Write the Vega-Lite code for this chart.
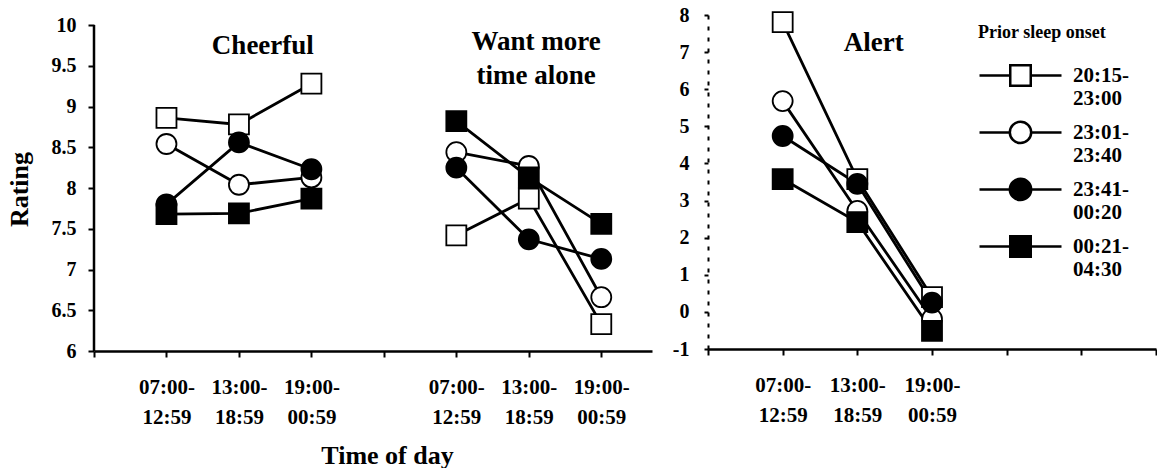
{
  "$schema": "https://vega.github.io/schema/vega-lite/v6.json",
  "background": "white",
  "padding": {"left": 6, "top": 5, "right": 0, "bottom": 0},
  "datasets": {
    "ratings": [
      {"measure": "Cheerful", "slot": 1, "time": "07:00-12:59", "onset": "20:15-23:00", "rating": 8.86},
      {"measure": "Cheerful", "slot": 2, "time": "13:00-18:59", "onset": "20:15-23:00", "rating": 8.78},
      {"measure": "Cheerful", "slot": 3, "time": "19:00-00:59", "onset": "20:15-23:00", "rating": 9.28},
      {"measure": "Want more time alone", "slot": 1, "time": "07:00-12:59", "onset": "20:15-23:00", "rating": 7.42},
      {"measure": "Want more time alone", "slot": 2, "time": "13:00-18:59", "onset": "20:15-23:00", "rating": 7.87},
      {"measure": "Want more time alone", "slot": 3, "time": "19:00-00:59", "onset": "20:15-23:00", "rating": 6.33},
      {"measure": "Alert", "slot": 1, "time": "07:00-12:59", "onset": "20:15-23:00", "rating": 7.81},
      {"measure": "Alert", "slot": 2, "time": "13:00-18:59", "onset": "20:15-23:00", "rating": 3.58},
      {"measure": "Alert", "slot": 3, "time": "19:00-00:59", "onset": "20:15-23:00", "rating": 0.4},
      {"measure": "Cheerful", "slot": 1, "time": "07:00-12:59", "onset": "23:01-23:40", "rating": 8.54},
      {"measure": "Cheerful", "slot": 2, "time": "13:00-18:59", "onset": "23:01-23:40", "rating": 8.04},
      {"measure": "Cheerful", "slot": 3, "time": "19:00-00:59", "onset": "23:01-23:40", "rating": 8.13},
      {"measure": "Want more time alone", "slot": 1, "time": "07:00-12:59", "onset": "23:01-23:40", "rating": 8.44},
      {"measure": "Want more time alone", "slot": 2, "time": "13:00-18:59", "onset": "23:01-23:40", "rating": 8.27},
      {"measure": "Want more time alone", "slot": 3, "time": "19:00-00:59", "onset": "23:01-23:40", "rating": 6.66},
      {"measure": "Alert", "slot": 1, "time": "07:00-12:59", "onset": "23:01-23:40", "rating": 5.68},
      {"measure": "Alert", "slot": 2, "time": "13:00-18:59", "onset": "23:01-23:40", "rating": 2.72},
      {"measure": "Alert", "slot": 3, "time": "19:00-00:59", "onset": "23:01-23:40", "rating": -0.19},
      {"measure": "Cheerful", "slot": 1, "time": "07:00-12:59", "onset": "23:41-00:20", "rating": 7.8},
      {"measure": "Cheerful", "slot": 2, "time": "13:00-18:59", "onset": "23:41-00:20", "rating": 8.56},
      {"measure": "Cheerful", "slot": 3, "time": "19:00-00:59", "onset": "23:41-00:20", "rating": 8.23},
      {"measure": "Want more time alone", "slot": 1, "time": "07:00-12:59", "onset": "23:41-00:20", "rating": 8.25},
      {"measure": "Want more time alone", "slot": 2, "time": "13:00-18:59", "onset": "23:41-00:20", "rating": 7.37},
      {"measure": "Want more time alone", "slot": 3, "time": "19:00-00:59", "onset": "23:41-00:20", "rating": 7.13},
      {"measure": "Alert", "slot": 1, "time": "07:00-12:59", "onset": "23:41-00:20", "rating": 4.74},
      {"measure": "Alert", "slot": 2, "time": "13:00-18:59", "onset": "23:41-00:20", "rating": 3.45},
      {"measure": "Alert", "slot": 3, "time": "19:00-00:59", "onset": "23:41-00:20", "rating": 0.25},
      {"measure": "Cheerful", "slot": 1, "time": "07:00-12:59", "onset": "00:21-04:30", "rating": 7.68},
      {"measure": "Cheerful", "slot": 2, "time": "13:00-18:59", "onset": "00:21-04:30", "rating": 7.69},
      {"measure": "Cheerful", "slot": 3, "time": "19:00-00:59", "onset": "00:21-04:30", "rating": 7.87},
      {"measure": "Want more time alone", "slot": 1, "time": "07:00-12:59", "onset": "00:21-04:30", "rating": 8.82},
      {"measure": "Want more time alone", "slot": 2, "time": "13:00-18:59", "onset": "00:21-04:30", "rating": 8.13},
      {"measure": "Want more time alone", "slot": 3, "time": "19:00-00:59", "onset": "00:21-04:30", "rating": 7.56},
      {"measure": "Alert", "slot": 1, "time": "07:00-12:59", "onset": "00:21-04:30", "rating": 3.58},
      {"measure": "Alert", "slot": 2, "time": "13:00-18:59", "onset": "00:21-04:30", "rating": 2.42},
      {"measure": "Alert", "slot": 3, "time": "19:00-00:59", "onset": "00:21-04:30", "rating": -0.51}
    ],
    "panels": [
      {"panel": "Cheerful"},
      {"panel": "Want more\ntime alone"},
      {"panel": "Alert"}
    ]
  },
  "spacing": 56,
  "bounds": "flush",
  "hconcat": [
    {
      "width": 558,
      "height": 336,
      "layer": [
        {
          "layer": [
            {
              "data": {"name": "panels"},
              "transform": [{"filter": "datum.panel == 'Cheerful'"}],
              "mark": {"type": "rule", "color": "black", "strokeWidth": 2.5},
              "encoding": {
                "x": {
                  "datum": 0, "type": "quantitative",
                  "scale": {"domain": [0, 7.7], "nice": false, "zero": false},
                  "axis": {
                    "values": [0, 1, 2, 3, 4, 5, 6, 7],
                    "labelExpr": "datum.value == 1 || datum.value == 5 ? ['07:00-', '12:59'] : datum.value == 2 || datum.value == 6 ? ['13:00-', '18:59'] : datum.value == 3 || datum.value == 7 ? ['19:00-', '00:59'] : ''",
                    "labelFontSize": 21, "labelLineHeight": 30, "labelPadding": 19,
                    "labelAngle": 0, "labelFlush": false, "labelOverlap": false,
                    "tickSize": 6, "tickWidth": 2, "domainWidth": 2.5,
                    "title": "Time of day", "titleFontSize": 26,
                    "titleX": 293, "titleY": 104, "titleAlign": "center", "titleBaseline": "middle"
                  }
                },
                "y": {
                  "datum": 6, "type": "quantitative",
                  "scale": {"domain": [6, 10.123], "nice": false, "zero": false},
                  "axis": {
                    "values": [6, 6.5, 7, 7.5, 8, 8.5, 9, 9.5, 10],
                    "labelExpr": "'' + datum.value",
                    "labelFontSize": 20, "labelPadding": 12, "labelBaseline": "middle", "labelOverlap": false,
                    "domain": false, "tickSize": 6, "tickWidth": 2,
                    "title": "Rating", "titleFontSize": 26, "titleAngle": -90,
                    "titleX": -75, "titleY": 174, "titleAlign": "center", "titleBaseline": "middle"
                  }
                },
                "y2": {"datum": 10}
              }
            },
            {
              "data": {"name": "ratings"},
              "transform": [{"filter": "datum.measure == 'Cheerful'"}],
              "mark": {"type": "line", "color": "black", "strokeWidth": 2.8},
              "encoding": {
                "x": {"field": "slot", "type": "quantitative", "scale": {"domain": [0, 7.7], "nice": false, "zero": false}},
                "y": {"field": "rating", "type": "quantitative", "scale": {"domain": [6, 10.123], "nice": false, "zero": false}},
                "detail": {"field": "onset", "type": "nominal"}
              }
            },
            {
              "data": {"name": "ratings"},
              "transform": [{"filter": "datum.measure == 'Cheerful'"}],
              "mark": {"type": "point", "filled": true, "size": 400, "stroke": "black", "strokeWidth": 1.8, "opacity": 1},
              "encoding": {
                "x": {"field": "slot", "type": "quantitative", "scale": {"domain": [0, 7.7], "nice": false, "zero": false}},
                "y": {"field": "rating", "type": "quantitative", "scale": {"domain": [6, 10.123], "nice": false, "zero": false}},
                "shape": {"field": "onset", "type": "nominal", "scale": {"domain": ["20:15-23:00", "23:01-23:40", "23:41-00:20", "00:21-04:30"], "range": ["square", "circle", "circle", "square"]}, "legend": null},
                "fill": {"field": "onset", "type": "nominal", "scale": {"domain": ["20:15-23:00", "23:01-23:40", "23:41-00:20", "00:21-04:30"], "range": ["white", "white", "black", "black"]}, "legend": null}
              }
            },
            {
              "data": {"name": "panels"},
              "transform": [{"filter": "datum.panel == 'Cheerful'"}],
              "mark": {"type": "text", "font": "Liberation Serif", "fontWeight": "bold", "fontSize": 27, "color": "black", "align": "center", "baseline": "middle"},
              "encoding": {
                "x": {"datum": 2.33, "type": "quantitative", "scale": {"domain": [0, 7.7], "nice": false, "zero": false}},
                "y": {"datum": 9.74, "type": "quantitative", "scale": {"domain": [6, 10.123], "nice": false, "zero": false}},
                "text": {"field": "panel"}
              }
            }
          ]
        },
        {
          "layer": [
            {
              "data": {"name": "ratings"},
              "transform": [{"filter": "datum.measure == 'Want more time alone'"}],
              "mark": {"type": "line", "color": "black", "strokeWidth": 2.8},
              "encoding": {
                "x": {"field": "slot", "type": "quantitative", "scale": {"domain": [-4, 3.7], "nice": false, "zero": false}, "axis": null},
                "y": {"field": "rating", "type": "quantitative", "scale": {"domain": [6, 10.123], "nice": false, "zero": false}},
                "detail": {"field": "onset", "type": "nominal"}
              }
            },
            {
              "data": {"name": "ratings"},
              "transform": [{"filter": "datum.measure == 'Want more time alone'"}],
              "mark": {"type": "point", "filled": true, "size": 400, "stroke": "black", "strokeWidth": 1.8, "opacity": 1},
              "encoding": {
                "x": {"field": "slot", "type": "quantitative", "scale": {"domain": [-4, 3.7], "nice": false, "zero": false}, "axis": null},
                "y": {"field": "rating", "type": "quantitative", "scale": {"domain": [6, 10.123], "nice": false, "zero": false}},
                "shape": {"field": "onset", "type": "nominal", "scale": {"domain": ["20:15-23:00", "23:01-23:40", "23:41-00:20", "00:21-04:30"], "range": ["square", "circle", "circle", "square"]}, "legend": null},
                "fill": {"field": "onset", "type": "nominal", "scale": {"domain": ["20:15-23:00", "23:01-23:40", "23:41-00:20", "00:21-04:30"], "range": ["white", "white", "black", "black"]}, "legend": null}
              }
            },
            {
              "data": {"name": "panels"},
              "transform": [{"filter": "indexof(datum.panel, 'Want') == 0"}],
              "mark": {"type": "text", "font": "Liberation Serif", "fontWeight": "bold", "fontSize": 27, "color": "black", "align": "center", "baseline": "middle", "lineBreak": "\n", "lineHeight": 34},
              "encoding": {
                "x": {"datum": 2.1, "type": "quantitative", "scale": {"domain": [-4, 3.7], "nice": false, "zero": false}, "axis": null},
                "y": {"datum": 9.79, "type": "quantitative", "scale": {"domain": [6, 10.123], "nice": false, "zero": false}},
                "text": {"field": "panel"}
              }
            }
          ]
        }
      ],
      "resolve": {"scale": {"x": "independent"}, "axis": {"x": "independent"}}
    },
    {
      "width": 448,
      "height": 334,
      "layer": [
        {
          "data": {"name": "ratings"},
          "transform": [{"filter": "datum.measure == 'Alert'"}],
          "mark": {"type": "line", "color": "black", "strokeWidth": 2.8},
          "encoding": {
            "x": {
              "field": "slot", "type": "quantitative",
              "scale": {"domain": [0, 6], "nice": false, "zero": false},
              "axis": {
                "values": [0, 1, 2, 3, 4, 5, 6],
                "labelExpr": "datum.value == 1 ? ['07:00-', '12:59'] : datum.value == 2 ? ['13:00-', '18:59'] : datum.value == 3 ? ['19:00-', '00:59'] : ''",
                "labelFontSize": 21, "labelLineHeight": 30, "labelPadding": 19,
                "labelAngle": 0, "labelFlush": false, "labelOverlap": false,
                "tickSize": 6, "tickWidth": 2, "domainWidth": 2.5, "title": null
              }
            },
            "y": {
              "field": "rating", "type": "quantitative",
              "scale": {"domain": [-1, 8], "nice": false, "zero": false},
              "axis": {
                "values": [-1, 0, 1, 2, 3, 4, 5, 6, 7, 8],
                "labelExpr": "'' + datum.value",
                "labelFontSize": 20, "labelPadding": 15, "labelBaseline": "middle",
                "labelOverlap": false, "labelFlush": false,
                "domainDash": [4, 7], "domainWidth": 2, "tickSize": 4, "tickWidth": 2, "title": null
              }
            },
            "detail": {"field": "onset", "type": "nominal"}
          }
        },
        {
          "data": {"name": "ratings"},
          "transform": [{"filter": "datum.measure == 'Alert'"}],
          "mark": {"type": "point", "filled": true, "size": 400, "stroke": "black", "strokeWidth": 1.8, "opacity": 1},
          "encoding": {
            "x": {
              "field": "slot", "type": "quantitative",
              "scale": {"domain": [0, 6], "nice": false, "zero": false},
              "axis": {
                "values": [0, 1, 2, 3, 4, 5, 6],
                "labelExpr": "datum.value == 1 ? ['07:00-', '12:59'] : datum.value == 2 ? ['13:00-', '18:59'] : datum.value == 3 ? ['19:00-', '00:59'] : ''",
                "labelFontSize": 21, "labelLineHeight": 30, "labelPadding": 19,
                "labelAngle": 0, "labelFlush": false, "labelOverlap": false,
                "tickSize": 6, "tickWidth": 2, "domainWidth": 2.5, "title": null
              }
            },
            "y": {
              "field": "rating", "type": "quantitative",
              "scale": {"domain": [-1, 8], "nice": false, "zero": false},
              "axis": {
                "values": [-1, 0, 1, 2, 3, 4, 5, 6, 7, 8],
                "labelExpr": "'' + datum.value",
                "labelFontSize": 20, "labelPadding": 15, "labelBaseline": "middle",
                "labelOverlap": false, "labelFlush": false,
                "domainDash": [4, 7], "domainWidth": 2, "tickSize": 4, "tickWidth": 2, "title": null
              }
            },
            "shape": {"field": "onset", "type": "nominal", "scale": {"domain": ["20:15-23:00", "23:01-23:40", "23:41-00:20", "00:21-04:30"], "range": ["square", "circle", "circle", "square"]}, "legend": null},
            "fill": {"field": "onset", "type": "nominal", "scale": {"domain": ["20:15-23:00", "23:01-23:40", "23:41-00:20", "00:21-04:30"], "range": ["white", "white", "black", "black"]}, "legend": null}
          }
        },
        {
          "data": {"name": "panels"},
          "transform": [{"filter": "datum.panel == 'Alert'"}],
          "mark": {"type": "text", "font": "Liberation Serif", "fontWeight": "bold", "fontSize": 27, "color": "black", "align": "center", "baseline": "middle"},
          "encoding": {
            "x": {
              "datum": 2.22, "type": "quantitative",
              "scale": {"domain": [0, 6], "nice": false, "zero": false},
              "axis": {
                "values": [0, 1, 2, 3, 4, 5, 6],
                "labelExpr": "datum.value == 1 ? ['07:00-', '12:59'] : datum.value == 2 ? ['13:00-', '18:59'] : datum.value == 3 ? ['19:00-', '00:59'] : ''",
                "labelFontSize": 21, "labelLineHeight": 30, "labelPadding": 19,
                "labelAngle": 0, "labelFlush": false, "labelOverlap": false,
                "tickSize": 6, "tickWidth": 2, "domainWidth": 2.5, "title": null
              }
            },
            "y": {
              "datum": 7.25, "type": "quantitative",
              "scale": {"domain": [-1, 8], "nice": false, "zero": false},
              "axis": {
                "values": [-1, 0, 1, 2, 3, 4, 5, 6, 7, 8],
                "labelExpr": "'' + datum.value",
                "labelFontSize": 20, "labelPadding": 15, "labelBaseline": "middle",
                "labelOverlap": false, "labelFlush": false,
                "domainDash": [4, 7], "domainWidth": 2, "tickSize": 4, "tickWidth": 2, "title": null
              }
            },
            "text": {"field": "panel"}
          }
        },
        {
          "data": {"name": "ratings"},
          "transform": [{"filter": "false"}],
          "mark": {"type": "point", "filled": true, "strokeWidth": 2.5, "opacity": 1},
          "encoding": {
            "shape": {
              "field": "onset", "type": "nominal",
              "scale": {
                "domain": ["20:15-23:00", "23:01-23:40", "23:41-00:20", "00:21-04:30"],
                "range": [
                  "M-1,-0.16H-0.25M0.25,-0.16H1M-0.25,-0.41H0.25V0.09H-0.25Z",
                  "M-1,-0.16H-0.26M0.26,-0.16H1M-0.26,-0.16A0.26,0.26,0,1,0,0.26,-0.16A0.26,0.26,0,1,0,-0.26,-0.16Z",
                  "M-1,-0.16H-0.26M0.26,-0.16H1M-0.26,-0.16A0.26,0.26,0,1,0,0.26,-0.16A0.26,0.26,0,1,0,-0.26,-0.16Z",
                  "M-1,-0.16H-0.25M0.25,-0.16H1M-0.25,-0.41H0.25V0.09H-0.25Z"
                ]
              },
              "legend": {
                "title": "Prior sleep onset", "orient": "none", "legendX": 270, "legendY": 9,
                "symbolSize": 6724, "symbolStrokeWidth": 2.5, "symbolStrokeColor": "black", "symbolOpacity": 1,
                "clipHeight": 50,
                "labelExpr": "[slice(datum.label, 0, 6), slice(datum.label, 6)]",
                "labelFontSize": 21, "labelFont": "Liberation Serif", "labelFontWeight": "bold", "labelColor": "black",
                "labelLineHeight": 23, "labelBaseline": "alphabetic", "labelOffset": 10, "labelLimit": 0,
                "rowPadding": 5, "titleFontSize": 18, "titleFont": "Liberation Serif", "titleFontWeight": "bold",
                "titleColor": "black", "titlePadding": 15
              }
            },
            "fill": {
              "field": "onset", "type": "nominal",
              "scale": {"domain": ["20:15-23:00", "23:01-23:40", "23:41-00:20", "00:21-04:30"], "range": ["white", "white", "black", "black"]},
              "legend": {
                "title": "Prior sleep onset", "orient": "none", "legendX": 270, "legendY": 9,
                "symbolSize": 6724, "symbolStrokeWidth": 2.5, "symbolStrokeColor": "black", "symbolOpacity": 1,
                "clipHeight": 50,
                "labelExpr": "[slice(datum.label, 0, 6), slice(datum.label, 6)]",
                "labelFontSize": 21, "labelFont": "Liberation Serif", "labelFontWeight": "bold", "labelColor": "black",
                "labelLineHeight": 23, "labelBaseline": "alphabetic", "labelOffset": 10, "labelLimit": 0,
                "rowPadding": 5, "titleFontSize": 18, "titleFont": "Liberation Serif", "titleFontWeight": "bold",
                "titleColor": "black", "titlePadding": 15
              }
            },
            "stroke": {
              "field": "onset", "type": "nominal",
              "scale": {"domain": ["20:15-23:00", "23:01-23:40", "23:41-00:20", "00:21-04:30"], "range": ["black", "black", "black", "black"]},
              "legend": {
                "title": "Prior sleep onset", "orient": "none", "legendX": 270, "legendY": 9,
                "symbolSize": 6724, "symbolStrokeWidth": 2.5, "symbolStrokeColor": "black", "symbolOpacity": 1,
                "clipHeight": 50,
                "labelExpr": "[slice(datum.label, 0, 6), slice(datum.label, 6)]",
                "labelFontSize": 21, "labelFont": "Liberation Serif", "labelFontWeight": "bold", "labelColor": "black",
                "labelLineHeight": 23, "labelBaseline": "alphabetic", "labelOffset": 10, "labelLimit": 0,
                "rowPadding": 5, "titleFontSize": 18, "titleFont": "Liberation Serif", "titleFontWeight": "bold",
                "titleColor": "black", "titlePadding": 15
              }
            }
          }
        }
      ],
      "resolve": {"scale": {"shape": "independent", "fill": "independent", "stroke": "independent"}}
    }
  ],
  "config": {
    "view": {"stroke": null},
    "font": "Liberation Serif",
    "axis": {
      "domainColor": "black", "tickColor": "black", "labelColor": "black", "titleColor": "black",
      "labelFont": "Liberation Serif", "titleFont": "Liberation Serif",
      "labelFontWeight": "bold", "titleFontWeight": "bold", "grid": false
    },
    "axisY": {"labelOverlap": false}
  }
}
